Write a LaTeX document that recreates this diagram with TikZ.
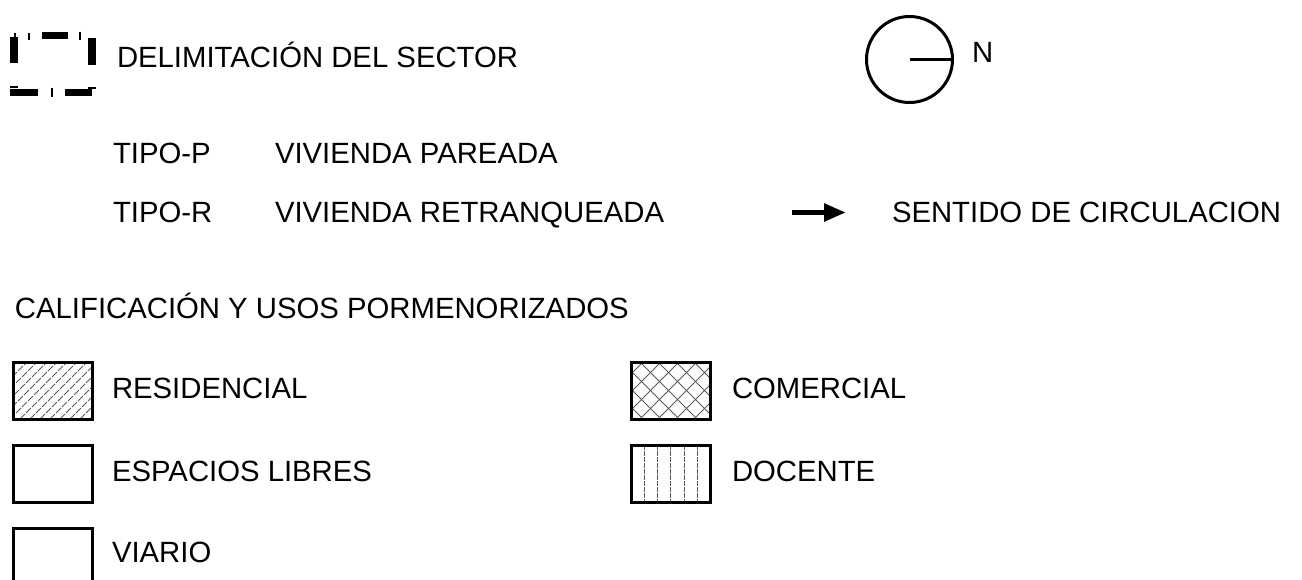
\documentclass[tikz,border=0pt]{standalone}
\usepackage{fontspec}
\setmainfont{Liberation Sans}
\usetikzlibrary{arrows.meta}
\begin{document}
\begin{tikzpicture}[x=1pt,y=-1pt,
  lbl/.style={anchor=base west, inner sep=0pt, outer sep=0pt, font=\fontsize{29.3}{32}\selectfont},
  swatch/.style={draw, line width=3pt, inner sep=0pt, outer sep=0pt, anchor=north west,
                 minimum width=79pt, minimum height=57pt},
  hatch/.style={line width=0.8pt, black!65},
  thinmark/.style={line width=1.4pt},
]
\useasboundingbox (0,0) rectangle (1302,580);

% --- sector boundary symbol ---
\fill (10,37) rectangle (18,63);
\draw[thinmark] (15,33) -- (15,37);
\draw[thinmark] (29,33) -- (29,40);
\fill (42,32) rectangle (68,39);
\draw[thinmark] (80,32) -- (80,40);
\fill (88,38) rectangle (96,65);
\draw[thinmark] (10,87) -- (18,87);
\draw[thinmark] (88,88) -- (96,88);
\fill (10,89) rectangle (38,96);
\draw[thinmark] (52,88) -- (52,97);
\fill (65,89) rectangle (92,96);
\node[lbl] (delim) at (117,68) {DELIMITACIÓN DEL SECTOR};

% --- north symbol ---
\node[circle, draw, line width=3pt, minimum size=86pt, inner sep=0pt, outer sep=0pt] (north) at (909.5,59.5) {};
\draw[line width=3.2pt] (north.center) -- (north.east);
\node[lbl] (n) at (972,63) {N};

% --- types ---
\node[lbl] (tipop) at (113,164) {TIPO-P};
\node[lbl] (vivp) at (275,164) {VIVIENDA PAREADA};
\node[lbl] (tipor) at (113,223) {TIPO-R};
\node[lbl] (vivr) at (275,223) {VIVIENDA RETRANQUEADA};

% --- circulation arrow ---
\coordinate (arrS) at (792,212.5);
\coordinate (arrE) at (846,212.5);
\draw[line width=5.5pt, -{Triangle[length=22pt 0 0, width=17pt 0 0]}] (arrS) -- (arrE);
\node[lbl] (sentido) at (892,223) {SENTIDO DE CIRCULACION};

% --- heading ---
\node[lbl] (calif) at (15,318) {CALIFICACIÓN Y USOS PORMENORIZADOS};

% --- hatching ---
\begin{scope}
  \clip (13,362) rectangle (92,419);
  \foreach \x in {-50,-40,...,100} \draw[hatch, dash pattern=on 7pt off 1.5pt] (\x,419) -- ++(57,-57);
\end{scope}
\begin{scope}
  \clip (631,362) rectangle (710,419);
  \foreach \x in {568,586,...,720} {
    \draw[hatch] (\x,419) -- ++(57,-57);
    \draw[hatch] (\x,362) -- ++(57,57);
  }
\end{scope}
\foreach \x in {644,657,670,684,697} \draw[hatch, dash pattern=on 5pt off 1pt] (\x,445) -- (\x,502);

% --- swatches ---
\node[swatch] (res) at (13,362) {};
\node[lbl] (resl) at (112,398) {RESIDENCIAL};
\node[swatch] (esp) at (13,445) {};
\node[lbl] (espl) at (112,481) {ESPACIOS LIBRES};
\node[swatch] (via) at (13,528) {};
\node[lbl] (vial) at (112,562) {VIARIO};
\node[swatch] (com) at (631,362) {};
\node[lbl] (coml) at (732,398) {COMERCIAL};
\node[swatch] (doc) at (631,445) {};
\node[lbl] (docl) at (732,481) {DOCENTE};
\end{tikzpicture}
\end{document}
